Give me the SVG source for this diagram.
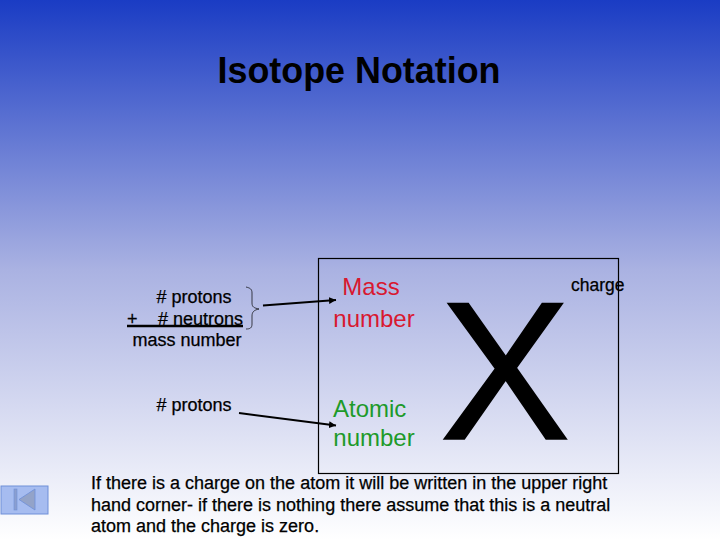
<svg xmlns="http://www.w3.org/2000/svg" width="720" height="540" viewBox="0 0 720 540">
<style>
text{font-family:"Liberation Sans",Arial,sans-serif;fill:#000}
.s{font-size:18px;stroke:#000;stroke-width:0.250}
.m{font-size:24px}
.r{fill:#d81830}
.g{fill:#1d9a2a}
.ln{fill:none;stroke:#000;stroke-width:2}
</style>
<defs>
<linearGradient id="bg" x1="0" y1="0" x2="0" y2="1">
<stop offset="0" stop-color="#1a3cc4"/>
<stop offset="0.5" stop-color="#aab2e2"/>
<stop offset="1" stop-color="#ffffff"/>
</linearGradient>
<marker id="ah" markerUnits="userSpaceOnUse" markerWidth="8" markerHeight="8" refX="7" refY="4" orient="auto"><path d="M0 0.5L7 4L0 7.500z" fill="#000"/></marker>
</defs>
<rect width="720" height="540" fill="url(#bg)"/>
<text id="title" x="359" y="83" font-size="36" font-weight="bold" text-anchor="middle" textLength="283" lengthAdjust="spacingAndGlyphs">Isotope Notation</text>
<rect id="box" x="318.500" y="258.500" width="300" height="215" fill="none" stroke="#000" stroke-width="1.200"/>
<g id="left-labels">
<text class="s" x="194" y="303" text-anchor="middle"># protons</text>
<text class="s" x="127" y="325">+</text>
<text class="s" x="158" y="325"># neutrons</text>
<path d="M127 326H243" stroke="#000" stroke-width="2.500" fill="none"/>
<text class="s" x="187" y="346" text-anchor="middle">mass number</text>
<text class="s" x="194" y="411" text-anchor="middle"># protons</text>
</g>
<g id="brace"><path d="M246 287C250 288 252 289 252 293V303C252 307 254 308 259 309C254 310 252 312 252 316V324C252 328 250 329 246 329" fill="none" stroke="#000" stroke-width="0.700"/></g>
<g id="connectors">
<path class="ln" d="M263 305.500L336 300" marker-end="url(#ah)"/>
<path class="ln" d="M239 413L336 425.500" marker-end="url(#ah)"/>
</g>
<g id="mass"><text class="m r" x="371" y="295" text-anchor="middle">Mass</text>
<text class="m r" x="374" y="327" text-anchor="middle">number</text></g>
<g id="atomic"><text class="m g" x="333" y="417">Atomic</text>
<text class="m g" x="374" y="446" text-anchor="middle">number</text></g>
<g id="x"><text x="505" y="438.500" font-size="196" text-anchor="middle" stroke="#000" stroke-width="1.500">X</text></g>
<g id="charge"><text class="s" x="571" y="291" style="font-size:17.500px">charge</text></g>
<g id="note">
<text class="s" x="91" y="489">If there is a charge on the atom it will be written in the upper right</text>
<text class="s" x="91" y="511">hand corner- if there is nothing there assume that this is a neutral</text>
<text class="s" x="91" y="532">atom and the charge is zero.</text>
</g>
<g id="back-button">
<rect x="1" y="486" width="47" height="28" fill="#a6bcf0" stroke="#6f8fd8" stroke-width="1"/>
<rect x="14" y="489" width="3" height="21" fill="#8a9ed0" stroke="#6f8fd8" stroke-width="0.600"/>
<path d="M35 489V510L19 499.500z" fill="#93a3c8" stroke="#6f8fd8" stroke-width="0.800"/>
</g>
</svg>
